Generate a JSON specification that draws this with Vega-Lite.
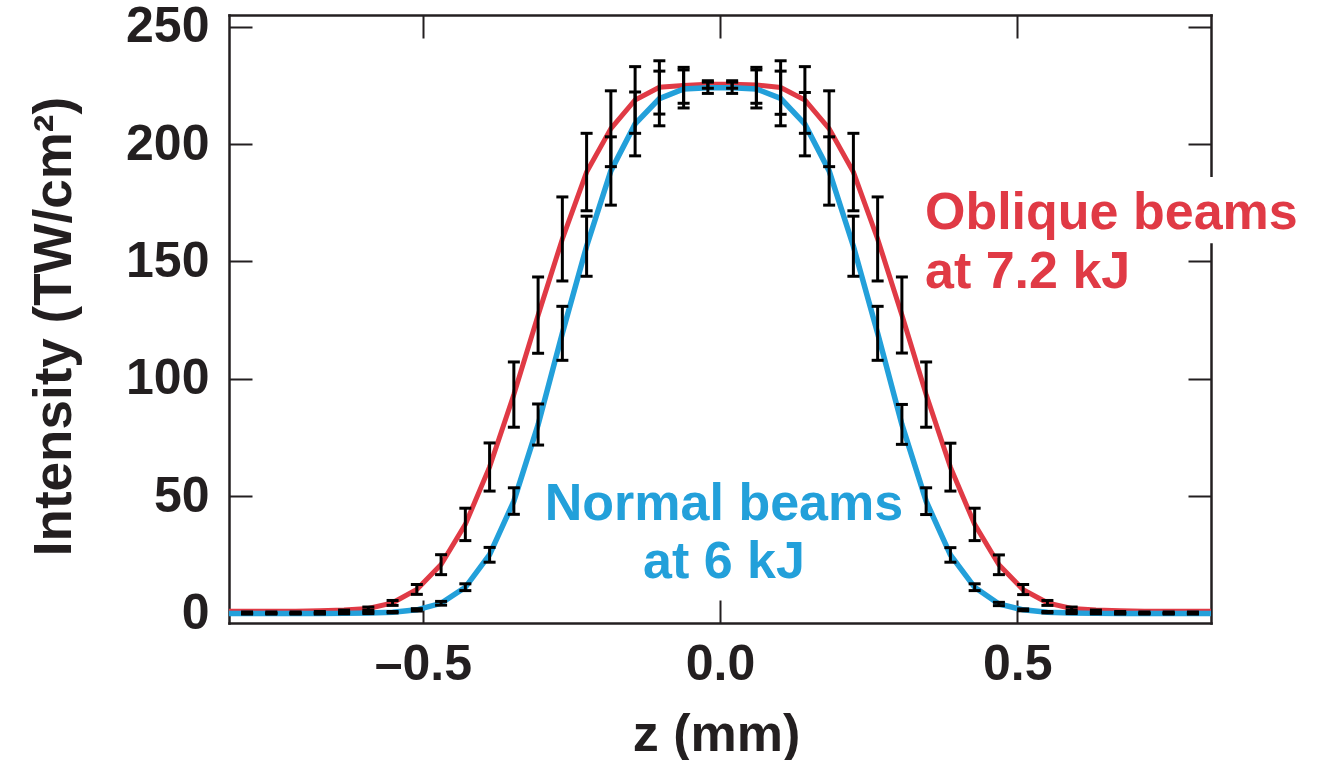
{
  "$schema": "https://vega.github.io/schema/vega-lite/v6.json",
  "width": 982,
  "height": 608,
  "autosize": "none",
  "padding": {"left": 229, "top": 15, "right": 108, "bottom": 137},
  "background": "white",
  "config": {
    "view": {"stroke": null},
    "axis": {
      "grid": false,
      "domain": true,
      "domainColor": "#231F20",
      "domainWidth": 2.5,
      "domainCap": "square",
      "ticks": true,
      "tickColor": "#231F20",
      "tickWidth": 2,
      "tickSize": -23,
      "labelFont": "Liberation Sans",
      "labelFontSize": 50,
      "labelFontWeight": "bold",
      "labelColor": "#231F20",
      "labelFlush": false,
      "labelOverlap": false,
      "labelBound": false,
      "titleFont": "Liberation Sans",
      "titleFontWeight": "bold",
      "titleColor": "#231F20"
    }
  },
  "datasets": {
    "pts": [
      {"z": -0.826, "series": "oblique", "I": 1.0, "lo": null, "hi": null},
      {"z": -0.7956, "series": "oblique", "I": 1.0, "lo": 0.1, "hi": 0.7},
      {"z": -0.7548, "series": "oblique", "I": 1.0, "lo": 0.1, "hi": 0.7},
      {"z": -0.714, "series": "oblique", "I": 1.0, "lo": 0.1, "hi": 0.7},
      {"z": -0.6732, "series": "oblique", "I": 1.2, "lo": 0.2, "hi": 0.9},
      {"z": -0.6324, "series": "oblique", "I": 1.5, "lo": 0.5, "hi": 1.5},
      {"z": -0.5916, "series": "oblique", "I": 2.2, "lo": 1.4, "hi": 2.8},
      {"z": -0.5508, "series": "oblique", "I": 4.6, "lo": 3.5, "hi": 5.6},
      {"z": -0.51, "series": "oblique", "I": 10.3, "lo": 8.2, "hi": 12.4},
      {"z": -0.4692, "series": "oblique", "I": 20.9, "lo": 16.6, "hi": 25.1},
      {"z": -0.4284, "series": "oblique", "I": 38.0, "lo": 31.1, "hi": 44.9},
      {"z": -0.3876, "series": "oblique", "I": 62.5, "lo": 52.2, "hi": 72.7},
      {"z": -0.3468, "series": "oblique", "I": 93.3, "lo": 79.4, "hi": 107.2},
      {"z": -0.306, "series": "oblique", "I": 127.1, "lo": 110.9, "hi": 143.4},
      {"z": -0.2652, "series": "oblique", "I": 159.6, "lo": 141.7, "hi": 177.5},
      {"z": -0.2244, "series": "oblique", "I": 188.1, "lo": 171.6, "hi": 204.6},
      {"z": -0.1836, "series": "oblique", "I": 206.6, "lo": 190.4, "hi": 222.7},
      {"z": -0.1428, "series": "oblique", "I": 218.8, "lo": 204.6, "hi": 233.0},
      {"z": -0.102, "series": "oblique", "I": 224.2, "lo": 212.8, "hi": 235.5},
      {"z": -0.0612, "series": "oblique", "I": 225.0, "lo": 217.4, "hi": 232.7},
      {"z": -0.0204, "series": "oblique", "I": 225.5, "lo": 223.8, "hi": 227.0},
      {"z": 0.0204, "series": "oblique", "I": 225.5, "lo": 223.8, "hi": 227.0},
      {"z": 0.0612, "series": "oblique", "I": 225.2, "lo": 217.4, "hi": 232.7},
      {"z": 0.102, "series": "oblique", "I": 224.1, "lo": 212.7, "hi": 235.5},
      {"z": 0.1428, "series": "oblique", "I": 218.8, "lo": 204.6, "hi": 233.0},
      {"z": 0.1836, "series": "oblique", "I": 206.6, "lo": 190.4, "hi": 222.7},
      {"z": 0.2244, "series": "oblique", "I": 188.1, "lo": 171.6, "hi": 204.6},
      {"z": 0.2652, "series": "oblique", "I": 159.6, "lo": 141.7, "hi": 177.5},
      {"z": 0.306, "series": "oblique", "I": 127.2, "lo": 111.0, "hi": 143.4},
      {"z": 0.3468, "series": "oblique", "I": 93.3, "lo": 79.4, "hi": 107.2},
      {"z": 0.3876, "series": "oblique", "I": 62.4, "lo": 52.2, "hi": 72.6},
      {"z": 0.4284, "series": "oblique", "I": 38.0, "lo": 31.1, "hi": 44.9},
      {"z": 0.4692, "series": "oblique", "I": 20.8, "lo": 16.6, "hi": 25.0},
      {"z": 0.51, "series": "oblique", "I": 10.2, "lo": 8.1, "hi": 12.4},
      {"z": 0.5508, "series": "oblique", "I": 4.6, "lo": 3.5, "hi": 5.6},
      {"z": 0.5916, "series": "oblique", "I": 2.2, "lo": 1.4, "hi": 2.8},
      {"z": 0.6324, "series": "oblique", "I": 1.5, "lo": 0.5, "hi": 1.5},
      {"z": 0.6732, "series": "oblique", "I": 1.2, "lo": 0.2, "hi": 0.9},
      {"z": 0.714, "series": "oblique", "I": 1.0, "lo": 0.1, "hi": 0.7},
      {"z": 0.7548, "series": "oblique", "I": 1.0, "lo": 0.1, "hi": 0.7},
      {"z": 0.7956, "series": "oblique", "I": 1.0, "lo": 0.1, "hi": 0.7},
      {"z": 0.826, "series": "oblique", "I": 1.0, "lo": null, "hi": null},
      {"z": -0.826, "series": "normal", "I": 0.0, "lo": null, "hi": null},
      {"z": -0.7956, "series": "normal", "I": 0.0, "lo": -0.2, "hi": 0.2},
      {"z": -0.7548, "series": "normal", "I": 0.0, "lo": -0.2, "hi": 0.2},
      {"z": -0.714, "series": "normal", "I": 0.0, "lo": -0.2, "hi": 0.2},
      {"z": -0.6732, "series": "normal", "I": 0.0, "lo": -0.2, "hi": 0.2},
      {"z": -0.6324, "series": "normal", "I": 0.1, "lo": -0.1, "hi": 0.3},
      {"z": -0.5916, "series": "normal", "I": 0.3, "lo": 0.0, "hi": 0.6},
      {"z": -0.5508, "series": "normal", "I": 0.6, "lo": 0.3, "hi": 0.9},
      {"z": -0.51, "series": "normal", "I": 1.6, "lo": 1.1, "hi": 2.1},
      {"z": -0.4692, "series": "normal", "I": 4.4, "lo": 3.6, "hi": 5.2},
      {"z": -0.4284, "series": "normal", "I": 11.2, "lo": 9.8, "hi": 12.7},
      {"z": -0.3876, "series": "normal", "I": 25.1, "lo": 21.9, "hi": 28.2},
      {"z": -0.3468, "series": "normal", "I": 47.9, "lo": 42.3, "hi": 53.6},
      {"z": -0.306, "series": "normal", "I": 80.5, "lo": 71.8, "hi": 89.3},
      {"z": -0.2652, "series": "normal", "I": 119.4, "lo": 107.9, "hi": 130.9},
      {"z": -0.2244, "series": "normal", "I": 156.5, "lo": 143.7, "hi": 169.3},
      {"z": -0.1836, "series": "normal", "I": 188.6, "lo": 174.0, "hi": 203.1},
      {"z": -0.1428, "series": "normal", "I": 208.6, "lo": 195.0, "hi": 222.2},
      {"z": -0.102, "series": "normal", "I": 219.4, "lo": 207.8, "hi": 231.1},
      {"z": -0.0612, "series": "normal", "I": 223.5, "lo": 215.4, "hi": 231.6},
      {"z": -0.0204, "series": "normal", "I": 224.0, "lo": 221.6, "hi": 226.4},
      {"z": 0.0204, "series": "normal", "I": 224.0, "lo": 221.6, "hi": 226.4},
      {"z": 0.0612, "series": "normal", "I": 223.5, "lo": 215.4, "hi": 231.6},
      {"z": 0.102, "series": "normal", "I": 219.5, "lo": 207.8, "hi": 231.1},
      {"z": 0.1428, "series": "normal", "I": 208.5, "lo": 195.0, "hi": 222.0},
      {"z": 0.1836, "series": "normal", "I": 188.6, "lo": 174.0, "hi": 203.1},
      {"z": 0.2244, "series": "normal", "I": 156.5, "lo": 143.7, "hi": 169.3},
      {"z": 0.2652, "series": "normal", "I": 119.4, "lo": 107.9, "hi": 130.9},
      {"z": 0.306, "series": "normal", "I": 80.6, "lo": 72.1, "hi": 89.1},
      {"z": 0.3468, "series": "normal", "I": 47.9, "lo": 42.2, "hi": 53.6},
      {"z": 0.3876, "series": "normal", "I": 25.0, "lo": 21.9, "hi": 28.1},
      {"z": 0.4284, "series": "normal", "I": 11.2, "lo": 9.8, "hi": 12.7},
      {"z": 0.4692, "series": "normal", "I": 4.1, "lo": 3.4, "hi": 4.8},
      {"z": 0.51, "series": "normal", "I": 1.6, "lo": 1.2, "hi": 2.0},
      {"z": 0.5508, "series": "normal", "I": 0.6, "lo": 0.3, "hi": 0.9},
      {"z": 0.5916, "series": "normal", "I": 0.3, "lo": 0.0, "hi": 0.6},
      {"z": 0.6324, "series": "normal", "I": 0.1, "lo": -0.1, "hi": 0.3},
      {"z": 0.6732, "series": "normal", "I": 0.0, "lo": -0.2, "hi": 0.2},
      {"z": 0.714, "series": "normal", "I": 0.0, "lo": -0.2, "hi": 0.2},
      {"z": 0.7548, "series": "normal", "I": 0.0, "lo": -0.2, "hi": 0.2},
      {"z": 0.7956, "series": "normal", "I": 0.0, "lo": -0.2, "hi": 0.2},
      {"z": 0.826, "series": "normal", "I": 0.0, "lo": null, "hi": null}
    ]
  },
  "layer": [
    {
      "data": {"name": "pts"},
      "transform": [{"filter": "datum.series === 'oblique'"}],
      "mark": {"type": "line", "color": "#E03A45", "strokeWidth": 5},
      "encoding": {
        "x": {
          "field": "z", "type": "quantitative",
          "scale": {"domain": [-0.826, 0.826], "nice": false, "zero": false},
          "axis": {
            "orient": "bottom",
            "values": [-0.5, 0, 0.5],
            "labelExpr": "datum.value < 0 ? '\u2013' + format(-datum.value, '.1f') : format(datum.value, '.1f')",
            "labelPadding": 39,
            "title": "z (mm)",
            "titleFontSize": 52,
            "titleAlign": "center",
            "titleBaseline": "alphabetic",
            "titleX": 487,
            "titleY": 127
          }
        },
        "y": {
          "field": "I", "type": "quantitative",
          "scale": {"domain": [-4, 255], "nice": false, "zero": false},
          "axis": {
            "orient": "left",
            "values": [0, 50, 100, 150, 200, 250],
            "labelPadding": 43,
            "title": "Intensity (TW/cm\u00b2)",
            "titleFontSize": 53,
            "titleAngle": -90,
            "titleAlign": "center",
            "titleBaseline": "alphabetic",
            "titleX": -159,
            "titleY": 311
          }
        }
      }
    },
    {
      "data": {"name": "pts"},
      "transform": [{"filter": "datum.series === 'normal'"}],
      "mark": {"type": "line", "color": "#23A0DA", "strokeWidth": 5.5},
      "encoding": {
        "x": {
          "field": "z", "type": "quantitative",
          "axis": {"orient": "top", "values": [-0.5, 0, 0.5], "labels": false, "title": null}
        },
        "y": {
          "field": "I", "type": "quantitative",
          "axis": {"orient": "right", "values": [0, 50, 100, 150, 200, 250], "labels": false, "title": null}
        }
      }
    },
    {
      "data": {"values": [{"z1": 0.8, "z2": 0.85, "y1": 157.8, "y2": 186.0}]},
      "mark": {"type": "rect", "color": "white", "opacity": 1},
      "encoding": {
        "x": {"field": "z1", "type": "quantitative", "axis": null},
        "x2": {"field": "z2"},
        "y": {"field": "y1", "type": "quantitative", "axis": null},
        "y2": {"field": "y2"}
      }
    },
    {
      "data": {"name": "pts"},
      "transform": [{"filter": "isValid(datum.lo)"}],
      "mark": {
        "type": "errorbar",
        "ticks": {"size": 12, "thickness": 3, "color": "#000000", "opacity": 1},
        "rule": {"strokeWidth": 3, "color": "#000000", "opacity": 1}
      },
      "encoding": {
        "x": {"field": "z", "type": "quantitative", "axis": null},
        "y": {"field": "lo", "type": "quantitative", "axis": null},
        "y2": {"field": "hi"}
      }
    },
    {
      "data": {"values": [
        {"z": 0.3448, "I": 163.7, "label": "Oblique beams"},
        {"z": 0.3448, "I": 138.5, "label": "at 7.2 kJ"}
      ]},
      "mark": {"type": "text", "align": "left", "baseline": "alphabetic", "font": "Liberation Sans", "fontWeight": "bold", "fontSize": 52, "color": "#E03A45"},
      "encoding": {
        "x": {"field": "z", "type": "quantitative", "axis": null},
        "y": {"field": "I", "type": "quantitative", "axis": null},
        "text": {"field": "label"}
      }
    },
    {
      "data": {"values": [
        {"z": 0.0067, "I": 39.8, "label": "Normal beams"},
        {"z": 0.0067, "I": 15.1, "label": "at 6 kJ"}
      ]},
      "mark": {"type": "text", "align": "center", "baseline": "alphabetic", "font": "Liberation Sans", "fontWeight": "bold", "fontSize": 52, "color": "#23A0DA"},
      "encoding": {
        "x": {"field": "z", "type": "quantitative", "axis": null},
        "y": {"field": "I", "type": "quantitative", "axis": null},
        "text": {"field": "label"}
      }
    }
  ],
  "resolve": {"axis": {"x": "independent", "y": "independent"}}
}
